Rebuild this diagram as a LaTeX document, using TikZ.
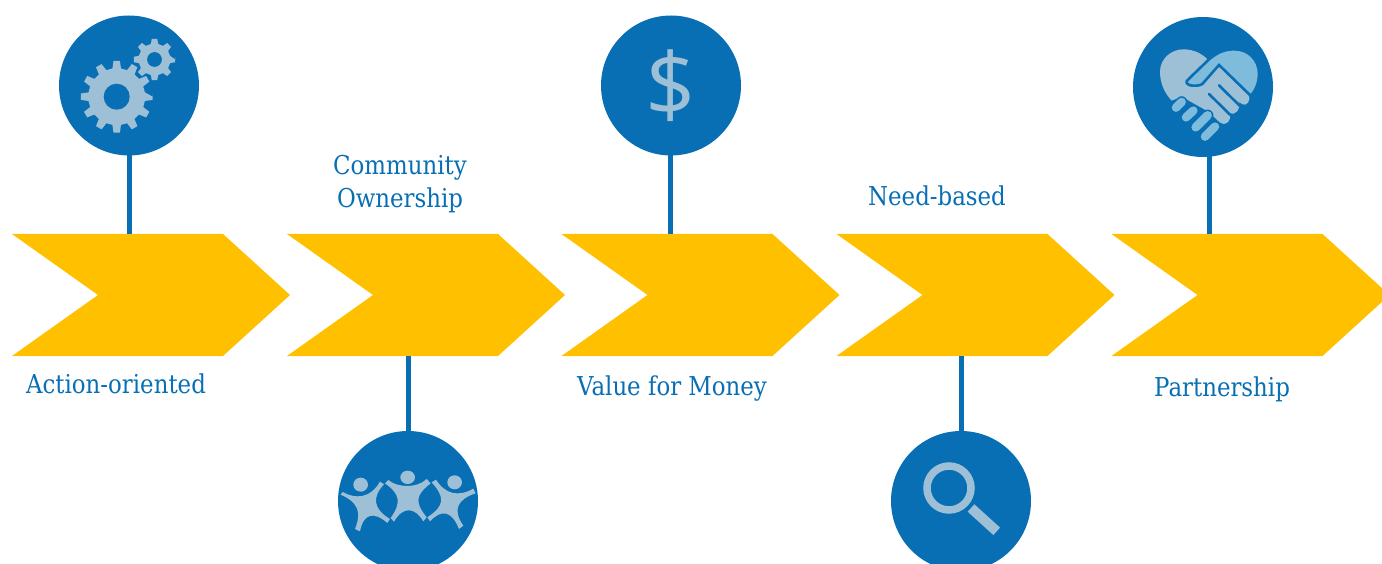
\documentclass[tikz,border=0pt]{standalone}
\usepackage{fontspec}
\setmainfont[FakeStretch=0.88]{DejaVu Serif}
\newfontfamily\iconfont{Open Sans}
\definecolor{mainblue}{HTML}{086FB5}
\definecolor{iconlight}{HTML}{9DC0D6}
\definecolor{iconsky}{HTML}{7FBBDA}
\definecolor{chevgold}{HTML}{FFC000}
\tikzset{
  badge/.style={circle,fill=mainblue,minimum size=140pt,inner sep=0pt,outer sep=0pt},
  stem/.style={draw=mainblue,line width=5pt},
  label/.style={text=mainblue,align=center,inner sep=0pt,font=\fontsize{26}{33}\selectfont},
  chev/.style={fill=chevgold},
  finger/.style={line cap=round,line width=27pt},
}
\newcommand{\chevronat}[2]{%
  \fill[chev,shift={(#1,0)}] (12,234) -- (223,234) -- (290,295) -- (223,356) -- (12,356) -- (98,295) -- cycle;
  \coordinate (#2) at (#1,0);}
\newcommand{\gearshape}[7]{% cx cy R r n rot fill
  \pgfmathsetmacro{\st}{360/#5}
  \pgfmathsetmacro{\last}{#5-1}
  \fill[#7,shift={(#1,#2)},rotate=#6]
    (0:#3) \foreach \i in {0,...,\last}{
      -- ({\i*\st-0.17*\st}:#3) -- ({\i*\st+0.17*\st}:#3)
      -- ({\i*\st+0.29*\st}:#4) -- ({\i*\st+0.71*\st}:#4)
    } -- cycle;}
\begin{document}
\begin{tikzpicture}[x=1pt,y=-1pt]
\useasboundingbox (0,0) rectangle (1382,564);
\clip (0,0) rectangle (1382,564);
\chevronat{0}{cA}
\chevronat{275}{cB}
\chevronat{549.5}{cC}
\chevronat{824.5}{cD}
\chevronat{1099.5}{cE}
% badges
\node[badge] (gears)  at (129,85.5) {};
\node[badge] (people) at (408,501) {};
\node[badge] (dollar) at (671,85.5) {};
\node[badge] (lens)   at (961,501) {};
\node[badge] (shake)  at (1203,87) {};
% anchor points on the chevrons
\coordinate (ga) at (129,234);
\coordinate (pa) at (408,356);
\coordinate (da) at (670.5,234);
\coordinate (la) at (961,356);
\coordinate (sa) at (1209,234);
\coordinate (gs) at (129,150);
\coordinate (ps) at (408,436);
\coordinate (ds) at (670.5,150);
\coordinate (ls) at (961,436);
\coordinate (ss) at (1209,152);
\begin{scope}[on background layer/.style={}]
\draw[stem] (gs) -- (ga);
\draw[stem] (ps) -- (pa);
\draw[stem] (ds) -- (da);
\draw[stem] (ls) -- (la);
\draw[stem] (ss) -- (sa);
\end{scope}
% gears
\gearshape{116.7}{96.7}{36}{28.5}{12}{0}{iconlight}
\fill[mainblue] (116.7,96.7) circle (13);
\gearshape{154.5}{59.5}{23}{18}{8}{0}{mainblue}
\gearshape{154.5}{59.5}{20.8}{16}{8}{0}{iconlight}
\fill[mainblue] (154.5,59.5) circle (7.4);
% people
\begin{scope}[shift={(330,424)},x=0.3333pt,y=-0.3333pt]
 \fill[iconlight] (92,182) ellipse (22 and 21);
 \fill[iconlight] (233,160) ellipse (22 and 20);
 \fill[iconlight] (374,175) ellipse (22 and 21);
 \fill[iconlight] (165,178) -- (175,168) .. controls (200,190) and (260,195) .. (290,165) -- (302,178)
   .. controls (255,215) and (255,235) .. (290,280) -- (280,292)
   .. controls (255,250) and (220,245) .. (192,293) -- (182,282)
   .. controls (215,235) and (210,210) .. (165,178) -- cycle;
 \fill[iconlight] (32,212) -- (38,204) .. controls (75,225) and (120,225) .. (150,173) -- (162,181)
   .. controls (125,220) and (130,255) .. (180,285) -- (172,297)
   .. controls (130,260) and (100,270) .. (90,322) -- (75,315)
   .. controls (95,265) and (85,235) .. (32,212) -- cycle;
 \fill[iconlight] (305,175) -- (318,167) .. controls (345,210) and (385,220) .. (430,194) -- (437,208)
   .. controls (385,225) and (365,255) .. (400,305) -- (387,315)
   .. controls (365,260) and (335,255) .. (300,292) -- (292,280)
   .. controls (345,245) and (345,220) .. (305,175) -- cycle;
\end{scope}
% dollar
\node[text=iconlight,inner sep=0pt,font=\iconfont\fontsize{88}{88}\selectfont] (dsign) at (dollar.center) {\$};
% lens
\draw[iconlight,line width=7.5pt] (949,488) circle (22);
\draw[iconlight,line width=10pt] (971,508) -- (996.7,531.3);
% handshake
\begin{scope}[shift={(1125,10)},x=0.3333pt,y=-0.3333pt,line width=2.6pt]
 % left lobe and hand
 \fill[iconlight] (140,272) .. controls (115,245) and (105,215) .. (105,185)
   .. controls (105,145) and (140,118) .. (175,118)
   .. controls (205,118) and (230,130) .. (250,150)
   -- (282,165) -- (372,258) .. controls (378,270) and (365,290) .. (352,283)
   -- (342,275) .. controls (350,295) and (330,320) .. (315,308)
   .. controls (320,335) and (300,350) .. (285,338) -- (250,305) -- (170,260) -- cycle;
 % right lobe with thumb
 \fill[iconsky,draw=mainblue] (190,208) -- (252,148)
   .. controls (280,125) and (300,118) .. (330,118)
   .. controls (370,118) and (402,150) .. (402,190)
   .. controls (402,220) and (392,240) .. (378,258)
   -- (282,165) -- (232,222) .. controls (225,228) and (205,228) .. (195,226) .. controls (185,222) and (180,216) .. (190,208) -- cycle;
 \draw[mainblue,line cap=round] (282,226) -- (345,288);
 \draw[mainblue,line cap=round] (252,252) -- (316,315);
 % fingers
 \foreach \xa/\ya/\xb/\yb in {153/293/170/276,183/322/205/302,212/352/248/316,240/380/270/350}{
  \draw[mainblue,line cap=round,line width=11.5pt] (\xa,\ya) -- (\xb,\yb);
  \draw[iconsky,line cap=round,line width=8.5pt] (\xa,\ya) -- (\xb,\yb);
 }
\end{scope}
% labels
\node[label] (t1) at (116,384) {Action-oriented};
\node[label] (t2) at (400,184) {Community\\Ownership};
\node[label] (t3) at (672,389) {Value for Money};
\node[label] (t4) at (937,196) {Need-based};
\node[label] (t5) at (1222,389) {Partnership};
\end{tikzpicture}
\end{document}
